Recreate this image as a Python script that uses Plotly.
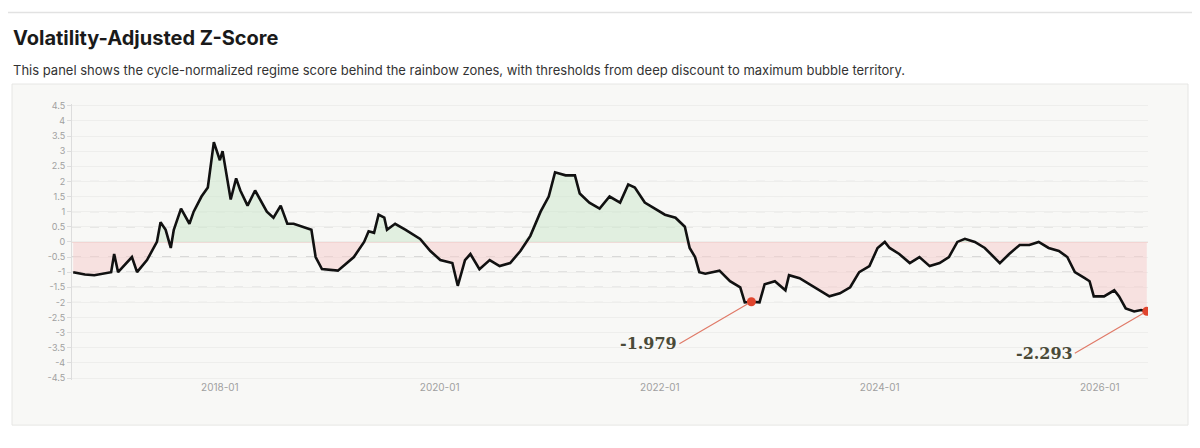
import plotly.graph_objects as go

dates = [
    "2016-09-01", "2016-10-10", "2016-11-10", "2016-12-05", "2017-01-05", "2017-01-15", "2017-01-28",
    "2017-03-15", "2017-04-01", "2017-05-04", "2017-06-06", "2017-06-18", "2017-07-05", "2017-07-22",
    "2017-08-01", "2017-08-25", "2017-09-22", "2017-10-06", "2017-11-01", "2017-11-22", "2017-12-12",
    "2018-01-01", "2018-01-10", "2018-02-06", "2018-02-24", "2018-03-10", "2018-04-03", "2018-04-28",
    "2018-06-06", "2018-06-28", "2018-07-22", "2018-08-13", "2018-09-03", "2018-11-01", "2018-11-15",
    "2018-12-06", "2019-01-28", "2019-03-22", "2019-04-25", "2019-05-10", "2019-05-28", "2019-06-12",
    "2019-07-01", "2019-07-10", "2019-08-06", "2019-09-10", "2019-10-28", "2019-12-01", "2020-01-03",
    "2020-02-12", "2020-03-01", "2020-03-25", "2020-04-12", "2020-05-12", "2020-06-15", "2020-07-18",
    "2020-08-22", "2020-09-25", "2020-10-28", "2020-12-01", "2020-12-28", "2021-01-18", "2021-02-22",
    "2021-03-25", "2021-04-10", "2021-05-12", "2021-06-15", "2021-07-18", "2021-08-22", "2021-09-18",
    "2021-10-10", "2021-11-12", "2021-12-15", "2022-01-18", "2022-02-22", "2022-03-25", "2022-04-10",
    "2022-04-28", "2022-05-12", "2022-06-01", "2022-07-18", "2022-08-22", "2022-09-25", "2022-10-10",
    "2022-11-01", "2022-11-28", "2022-12-15", "2023-01-18", "2023-02-22", "2023-03-06", "2023-04-10",
    "2023-05-12", "2023-06-15", "2023-07-18", "2023-08-22", "2023-09-25", "2023-10-25", "2023-11-28",
    "2023-12-25", "2024-01-18", "2024-02-03", "2024-03-06", "2024-04-10", "2024-05-12", "2024-06-15",
    "2024-07-18", "2024-08-18", "2024-09-15", "2024-10-10", "2024-11-12", "2024-12-15", "2025-01-15",
    "2025-02-03", "2025-03-06", "2025-04-10", "2025-05-12", "2025-06-12", "2025-07-15", "2025-08-18",
    "2025-09-15", "2025-10-10", "2025-11-12", "2025-11-28", "2025-12-12", "2026-01-15", "2026-02-18",
    "2026-03-06", "2026-03-28", "2026-04-25", "2026-05-18", "2026-06-06",
]
zscore = [
    -1.0, -1.08, -1.1, -1.05, -1.0, -0.4, -1.0,
    -0.5, -1.0, -0.6, 0.0, 0.65, 0.4, -0.2,
    0.4, 1.1, 0.6, 1.0, 1.5, 1.8, 3.3,
    2.7, 3.0, 1.4, 2.1, 1.7, 1.2, 1.7,
    1.0, 0.8, 1.2, 0.6, 0.6, 0.4, -0.5,
    -0.9, -0.95, -0.5, 0.0, 0.35, 0.3, 0.9,
    0.8, 0.4, 0.6, 0.4, 0.1, -0.3, -0.6,
    -0.7, -1.45, -0.6, -0.4, -0.9, -0.6, -0.8,
    -0.7, -0.3, 0.2, 1.0, 1.5, 2.3, 2.2,
    2.2, 1.6, 1.3, 1.1, 1.5, 1.3, 1.9,
    1.8, 1.3, 1.1, 0.9, 0.8, 0.5, -0.2,
    -0.5, -1.0, -1.05, -0.95, -1.3, -1.5, -2.0,
    -1.979, -2.0, -1.4, -1.3, -1.6, -1.1, -1.2,
    -1.4, -1.6, -1.8, -1.7, -1.5, -1.0, -0.8,
    -0.2, 0.0, -0.2, -0.4, -0.7, -0.5, -0.8,
    -0.7, -0.5, 0.0, 0.1, 0.0, -0.2, -0.5,
    -0.7, -0.4, -0.1, -0.1, 0.0, -0.2, -0.3,
    -0.5, -1.0, -1.2, -1.3, -1.8, -1.8, -1.6,
    -1.8, -2.2, -2.3, -2.25, -2.293,
]
marked_dates = ["2022-11-01", "2026-06-06"]
marked_values = [-1.979, -2.293]
y_ticks = [x / 2 for x in range(-9, 10)]
dashed_levels = [-2, -1.5, -1, -0.5, 0.5, 1, 1.5, 2]

# page has an 8px body margin, so the figure is drawn a bit smaller and shifted
OFF = 8
W, H = 1184, 440
def px(x):
    return (x - OFF) / W
def py(y):
    y = (y - 6.1) / 0.97
    return min(1, 1 - (y - OFF) / H)

fig = go.Figure()

pos = [max(v, 0) for v in zscore]
neg = [min(v, 0) for v in zscore]
fig.add_trace(go.Scatter(x=dates, y=pos, mode="lines", line=dict(width=0),
                         fill="tozeroy", fillcolor="rgba(205,232,205,0.55)", hoverinfo="skip"))
fig.add_trace(go.Scatter(x=dates, y=neg, mode="lines", line=dict(width=0),
                         fill="tozeroy", fillcolor="rgba(245,205,205,0.55)", hoverinfo="skip"))
fig.add_trace(go.Scatter(x=dates, y=zscore, mode="lines",
                         line=dict(color="#111111", width=2.6)))
fig.add_trace(go.Scatter(x=marked_dates, y=marked_values, mode="markers",
                         marker=dict(color="#e0452e", size=9)))

shapes = [
    dict(type="line", xref="paper", yref="paper", x0=0, x1=1, y0=0.999, y1=0.999,
         line=dict(color="#e2e2e2", width=1.5), layer="below"),
    dict(type="rect", xref="paper", yref="paper", x0=px(12), x1=px(1188), y0=py(422), y1=py(85),
         fillcolor="#f8f8f6", line=dict(color="#e6e6e4", width=1), layer="below"),
]
for lv in dashed_levels:
    shapes.append(dict(type="line", xref="x domain", yref="y", x0=0, x1=1, y0=lv, y1=lv,
                       line=dict(color="#b8b8b8", width=1, dash="dash"), layer="below"))
shapes.append(dict(type="line", xref="x domain", yref="y", x0=0, x1=1, y0=0, y1=0,
                   line=dict(color="#e2b0aa", width=1), layer="below"))

annotations = [
    dict(text="<b>Volatility-Adjusted Z-Score</b>", xref="paper", yref="paper", x=px(11), y=py(40),
         xanchor="left", yanchor="middle", showarrow=False,
         font=dict(family="Inter", size=20, color="#1a1a1a")),
    dict(text="This panel shows the cycle-normalized regime score behind the rainbow zones, "
              "with thresholds from deep discount to maximum bubble territory.",
         xref="paper", yref="paper", x=px(11), y=py(71), xanchor="left", yanchor="middle",
         showarrow=False, font=dict(family="Inter", size=13, color="#333333")),
]
for d, v in zip(marked_dates, marked_values):
    annotations.append(dict(x=d, y=v, xref="x", yref="y", text=f"<b>{v:.3f}</b>",
                            showarrow=True, arrowhead=0, arrowwidth=1.2, arrowcolor="#e07a68",
                            ax=-72, ay=42, xanchor="right", standoff=4,
                            font=dict(family="DejaVu Serif", size=16, color="#4a4a38")))
fig.update_layout(annotations=annotations, shapes=shapes)

fig.update_layout(
    width=W, height=H, showlegend=False,
    margin=dict(l=0, r=0, t=0, b=0),
    paper_bgcolor="white", plot_bgcolor="rgba(0,0,0,0)",
    font=dict(family="Inter", color="#999999", size=9),
    xaxis=dict(domain=[px(72), px(1148)], range=["2016-08-28", "2026-06-10"],
               tickformat="%Y-%m", dtick="M24", tick0="2018-01-01",
               showgrid=False, zeroline=False, showline=False,
               tickfont=dict(size=10, color="#a0a0a0")),
    yaxis=dict(domain=[py(377), py(105)], range=[-4.55, 4.55], tickvals=y_ticks,
               ticktext=[f"{t:g}" for t in y_ticks],
               showgrid=True, gridcolor="#eeeeec", zeroline=False,
               showline=True, linecolor="#dddddd", ticks="outside", ticklen=4,
               tickcolor="#dddddd", tickfont=dict(size=9, color="#a0a0a0")),
)

fig.write_html("out.html")
